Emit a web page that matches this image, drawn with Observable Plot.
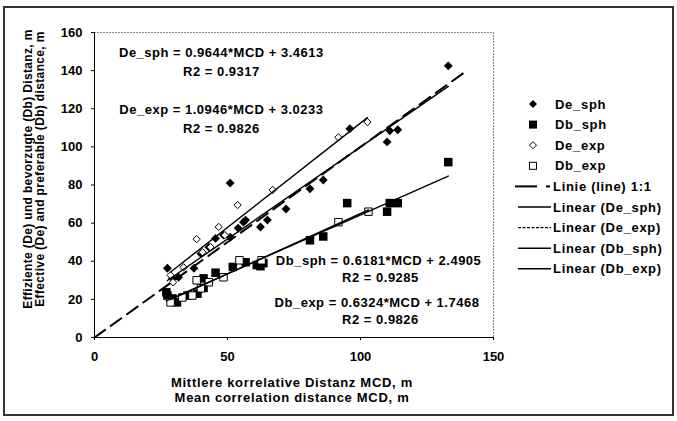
<!DOCTYPE html>
<html><head><meta charset="utf-8">
<script src="https://cdn.jsdelivr.net/npm/d3@7"></script>
<script src="https://cdn.jsdelivr.net/npm/@observablehq/plot@0.6"></script>
<style>
body{margin:0;background:#fff;}
#wrap{position:relative;width:677px;height:421px;font-family:"Liberation Sans",Arial,sans-serif;}
#border{position:absolute;left:3px;top:6px;width:667px;height:406px;border:2px solid #333;}
#chart{position:absolute;left:0;top:0;}
#overlay{position:absolute;left:0;top:0;pointer-events:none;}
#overlay text{font-family:"Liberation Sans",Arial,sans-serif;font-weight:bold;font-size:13px;letter-spacing:0.7px;fill:#000;}
#overlay text.yt{font-size:12px;letter-spacing:0.35px;}
</style></head><body>
<div id="wrap"><div id="border"></div><div id="chart"></div><svg id="overlay" width="677" height="421"></svg></div>
<script>
// ---- data (MCD [m], distance [m]) ----
const deSph = [[27.4,36.3],[29.3,31],[31.6,31.6],[37.4,36.3],[40,44],[43,47.4],[45.5,52],[48.5,53.7],[51,52.6],[51,81],[54,57.4],[56,60.5],[56.8,61.6],[62.4,58],[65,61.6],[72,67.4],[81,78],[86,82.6],[96,109.5],[110,102.6],[111,108.4],[114,109],[133,142.5]];
const dbSph = [[27,23.7],[27.4,22],[29.3,20.5],[31,18.4],[35,22],[38.7,23],[41,26],[41,31],[45.5,34],[52,37],[56.8,39.5],[61,38],[62.4,37.4],[63.5,39],[81,51],[86,53],[95,70.5],[110,66],[111,70.5],[114,70.5],[133,92]];
const deExp = [[28.6,32.6],[29.5,29],[33.5,36.8],[38.4,51.6],[40.6,44.7],[43.6,47.4],[46.7,58],[49,53.7],[53.8,69.5],[67,77.4],[91.7,105],[102.6,113]];
const dbExp = [[28.6,18.4],[33,21],[36.8,22],[38.4,30],[40,25.8],[43,29],[48.5,31.6],[54.5,40.5],[62.8,40.5],[91.7,60.5],[103,66]];
const oneToOne = [0, 140];
// regression coefficients as printed on the chart [slope, intercept]
const fitDeSph = [0.9644, 3.4613];
const fitDeExp = [1.0946, 3.0233];
const fitDbSph = [0.6181, 2.4905];
const fitDbExp = [0.6324, 1.7468];
const eqTexts = ["De_sph = 0.9644*MCD + 3.4613","R2 = 0.9317","De_exp = 1.0946*MCD + 3.0233","R2 = 0.9826",
                 "Db_sph = 0.6181*MCD + 2.4905","R2 = 0.9285","Db_exp = 0.6324*MCD + 1.7468","R2 = 0.9826"];
const xTicks = [0, 50, 100, 150];
const yTicks = [0, 20, 40, 60, 80, 100, 120, 140, 160];
const legendNames = ["De_sph","Db_sph","De_exp","Db_exp","Linie (line) 1:1","Linear (De_sph)","Linear (De_exp)","Linear (Db_sph)","Linear (Db_exp)"];
const xTitle = ["Mittlere korrelative Distanz MCD, m","Mean correlation distance MCD, m"];
const yTitle = ["Effiziente (De) und bevorzugte (Db) Distanz, m","Effective (De) and preferable (Db) distance, m"];

// ---- build ----
const pts = a => a.map(([x, y]) => ({x, y}));
const trend = (a, f) => { const e = d3.extent(a, d => d[0]); return e.map(x => ({x, y: f[0]*x + f[1]})); };
const eqPos = [[47.7,149.2],[47.7,139.6],[47.7,119.6],[47.7,109.7],[106.8,40.4],[107.5,31.5],[106.2,18.4],[107.5,9.4]];
const eqData = eqTexts.map((t, i) => ({t, x: eqPos[i][0], y: eqPos[i][1]}));

const chart = Plot.plot({
  width: 677, height: 421,
  marginLeft: 94, marginRight: 184, marginTop: 32, marginBottom: 84,
  style: {fontFamily: "Liberation Sans, Arial, sans-serif", fontSize: "13px", fontWeight: "bold", color: "#000", background: "transparent", overflow: "visible"},
  x: {domain: [0, 150], ticks: xTicks, tickSize: 3, tickPadding: 11, label: null},
  y: {domain: [0, 160], ticks: yTicks, tickSize: 3, tickPadding: 9, label: null},
  marks: [
    Plot.ruleY([160], {stroke: "#888", strokeDasharray: "2,1"}),
    Plot.ruleX([150], {stroke: "#888", strokeDasharray: "2,1"}),
    Plot.ruleX([0], {stroke: "#000"}),
    Plot.ruleY([0], {stroke: "#000"}),
    Plot.line(oneToOne.map(v => ({x: v, y: v})), {x: "x", y: "y", stroke: "#000", strokeWidth: 2, strokeDasharray: "13,7"}),
    Plot.dot(pts(deSph), {x: "x", y: "y", symbol: "diamond2", r: 4, fill: "#000"}),
    Plot.dot(pts(dbSph), {x: "x", y: "y", symbol: "square", r: 4.8, fill: "#000"}),
    Plot.dot(pts(deExp), {x: "x", y: "y", symbol: "diamond2", r: 3.3, fill: "#fff", stroke: "#000", strokeWidth: 1}),
    Plot.dot(pts(dbExp), {x: "x", y: "y", symbol: "square", r: 4.2, fill: "#fff", stroke: "#000", strokeWidth: 1}),
    Plot.line(trend(deSph, fitDeSph), {x: "x", y: "y", stroke: "#000", strokeWidth: 1.4}),
    Plot.line(trend(deExp, fitDeExp), {x: "x", y: "y", stroke: "#000", strokeWidth: 1.4}),
    Plot.line(trend(dbSph, fitDbSph), {x: "x", y: "y", stroke: "#000", strokeWidth: 1.4}),
    Plot.line(trend(dbExp, fitDbExp), {x: "x", y: "y", stroke: "#000", strokeWidth: 1.4}),
    Plot.text(eqData, {x: "x", y: "y", text: "t", fill: "#000", fontSize: 13, fontWeight: "bold"})
  ]
});
document.getElementById("chart").appendChild(chart);
d3.select(chart).selectAll('g[aria-label="text"] text').style("letter-spacing", "0.5px");

// ---- legend & axis titles ----
const ov = d3.select("#overlay");
const ly = i => 104 + i * 20.6;
legendNames.forEach((name, i) => {
  const y = ly(i);
  if (i < 4) {
    const g = ov.append("g").attr("transform", `translate(533,${y})`);
    if (i === 0) g.append("path").attr("d", "M0,-4L4,0L0,4L-4,0Z").attr("fill", "#000");
    if (i === 1) g.append("rect").attr("x", -4).attr("y", -4).attr("width", 8).attr("height", 8).attr("fill", "#000");
    if (i === 2) g.append("path").attr("d", "M0,-3.5L3.5,0L0,3.5L-3.5,0Z").attr("fill", "#fff").attr("stroke", "#000");
    if (i === 3) g.append("rect").attr("x", -3.5).attr("y", -3.5).attr("width", 7).attr("height", 7).attr("fill", "#fff").attr("stroke", "#000");
    ov.append("text").attr("x", 555).attr("y", y).attr("dy", "0.35em").text(name);
  } else {
    if (i === 4) {
      ov.append("line").attr("x1", 515).attr("x2", 537).attr("y1", y).attr("y2", y).attr("stroke", "#000").attr("stroke-width", 2);
      ov.append("line").attr("x1", 546).attr("x2", 550).attr("y1", y).attr("y2", y).attr("stroke", "#000").attr("stroke-width", 2);
    } else {
      ov.append("line").attr("x1", 518).attr("x2", 551).attr("y1", y).attr("y2", y).attr("stroke", "#000")
        .attr("stroke-width", 1.4).attr("stroke-dasharray", i === 6 ? "3,1.5" : null);
    }
    ov.append("text").attr("x", 553).attr("y", y).attr("dy", "0.35em").text(name);
  }
});
xTitle.forEach((t, i) => ov.append("text").attr("x", 292).attr("y", 382 + i * 15.5).attr("dy", "0.35em").attr("text-anchor", "middle").text(t));
yTitle.forEach((t, i) => ov.append("text").attr("class", "yt").attr("transform", `translate(${28 + i * 12},169) rotate(-90)`).attr("dy", "0.35em").attr("text-anchor", "middle").text(t));
</script>
</body></html>
